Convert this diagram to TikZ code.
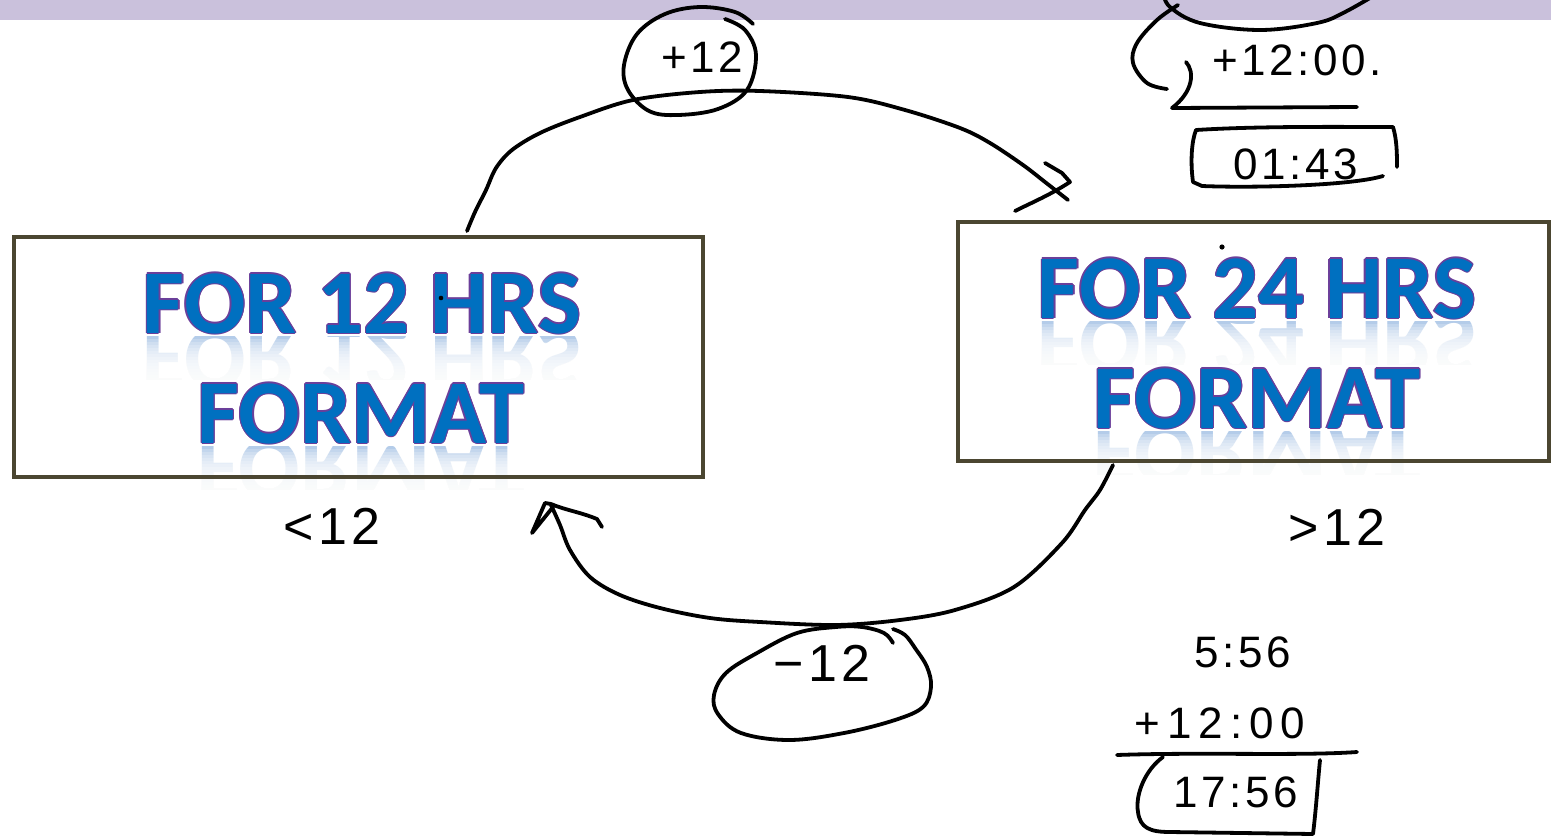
\documentclass[tikz,border=0pt]{standalone}
\usepackage{fontspec}
\newfontfamily\boxfont{Carlito}
\newfontfamily\handfont{Liberation Sans}[LetterSpace=8]
\definecolor{band}{HTML}{CAC1DC}
\definecolor{frame}{HTML}{4B4631}
\definecolor{tblue}{HTML}{0070C0}
\definecolor{outl}{HTML}{6B3F9A}
\definecolor{refl}{HTML}{B4CCE9}
\tikzset{
  hand/.style={line width=3.8pt, line cap=round, line join=round, black},
  framebox/.style={draw=frame, line width=4.5pt, inner sep=0pt},
  bigtxt/.style={font=\boxfont\bfseries\fontsize{91}{96}\selectfont, text=tblue, anchor=base, inner sep=0pt},
  htxt/.style={font=\handfont\fontsize{44}{48}\selectfont, inner sep=0pt, text=black},
  bightxt/.style={htxt, font=\handfont\fontsize{52}{56}\selectfont},
}
% main line with thin outline: name, x, baseline y, text
\newcommand\bigline[4]{%
  \foreach \dx/\dy [count=\k] in {-1.2/0,1.2/0,0/-1.2,0/1.2,-0.9/-0.9,0.9/0.9,-0.9/0.9,0.9/-0.9}{%
    \node[bigtxt, text=outl] (#1o\k) at ({#2+\dx},{#3+\dy}) {#4};}%
  \node[bigtxt] (#1) at (#2,#3) {#4};%
}
% reflection of a line: name, x, baseline y, text, x-left, x-right
\newcommand\reflline[6]{%
  \begin{scope}
    \clip (#5,{#3+3}) rectangle (#6,{#3+46});
    \node[bigtxt, text=refl, shift={(#2,#3)}, yscale=-1, transform shape] (#1) at (0,-4) {#4};%
    \foreach \i in {1,...,14}{%
      \fill[white, fill opacity=0.2] (#5,{#3+3+\i*3}) rectangle (#6,{#3+47});}%
  \end{scope}
}
\begin{document}
\begin{tikzpicture}[x=1pt,y=-1pt]
\useasboundingbox (0,0) rectangle (1551,838);
\fill[band] (0,0) rectangle (1551,20);

% reflections
\reflline{r12a}{362}{333}{FOR 12 HRS}{130}{600}
\reflline{r12b}{361}{443}{FORMAT}{180}{545}
\reflline{r24a}{1257}{318}{FOR 24 HRS}{1025}{1495}
\reflline{r24b}{1257}{428}{FORMAT}{1075}{1440}

% boxes
\node[framebox, minimum width=689pt, minimum height=240pt] (b12) at (358.5,357) {};
\node[framebox, minimum width=591pt, minimum height=239pt] (b24) at (1253.5,341.5) {};

% box texts
\bigline{t12a}{362}{333}{FOR 12 HRS}
\bigline{t12b}{361}{443}{FORMAT}
\bigline{t24a}{1257}{318}{FOR 24 HRS}
\bigline{t24b}{1257}{428}{FORMAT}

% stray pen dots
\fill (441,298) circle (2.3);
\fill (1222,247) circle (2.6);

% top connector 12 -> 24
\coordinate (tS) at (467,231);
\coordinate (tE) at (1068,200);
\draw[hand] plot[smooth, tension=0.55] coordinates {(tS) (475,212) (486,190) (496,168) (512,150) (540,133) (580,117) (633,100) (700,92) (760,91) (848,97) (905,110) (960,128) (990,143) (1023,165) (1045,182) (tE)};
\draw[hand] (1015,211) .. controls (1033,202) and (1050,195) .. (1070,182) -- (1062,173) -- (1045,163);

% bottom connector 24 -> 12
\coordinate (bS) at (1113,465);
\coordinate (bE) at (551,505);
\draw[hand] plot[smooth, tension=0.55] coordinates {(bS) (1100,490) (1085,510) (1062,543) (1014,587) (955,610) (900,620) (836,625) (760,622) (710,618) (660,608) (620,595) (590,577) (570,550) (560,525) (bE)};
\draw[hand] (602,527) -- (597,519) .. controls (580,512) and (565,510) .. (551,504) -- (545,503) -- (532,533) -- (553,507);

% +12 label with loop
\node[htxt] (plus) at (702,57) {+12};
\draw[hand] plot[smooth, tension=0.6] coordinates {(725,19) (745,30) (756,55) (747,90) (718,109) (678,115) (649,111) (628,90) (624,65) (637,34) (665,14) (700,7) (735,12) (753,24)};

% -12 label with loop
\node[bightxt] (minus) at (822,663) {−12};
\draw[hand] plot[smooth, tension=0.6] coordinates {(893,643) (884,633) (862,627) (836,627) (797,633) (757,653) (726,673) (714,695) (718,714) (741,733) (789,740) (844,733) (895,720) (923,707) (931,687) (927,667) (915,648) (905,635) (893,629)};

% conditions
\node[bightxt] (lt) at (332,526) {<12};
\node[bightxt] (gt) at (1337,527) {>12};

% top right working
\draw[hand] plot[smooth, tension=0.6] coordinates {(1163,-8) (1170,7) (1200,23) (1260,30) (1317,23) (1345,12) (1380,-8)};
\draw[hand] plot[smooth, tension=0.6] coordinates {(1178,5) (1157,20) (1137,43) (1133,63) (1147,83) (1167,89)};
\draw[hand] (1186,62) .. controls (1195,72) and (1193,92) .. (1172,108) -- (1357,107);
\node[htxt] (sum1) at (1297,60) {+12:00.};
\node[htxt] (res1) at (1296,164) {01:43};
\draw[hand] (1383,176) .. controls (1350,186) and (1250,188) .. (1202,186) -- (1193,182) .. controls (1190,160) and (1192,140) .. (1196,130) .. controls (1260,126) and (1340,127) .. (1393,127) .. controls (1397,140) and (1397,155) .. (1397,167);

% bottom right working
\node[htxt] (a2) at (1243,652) {5:56};
\node[htxt, font=\handfont\fontsize{44}{48}\selectfont\addfontfeature{LetterSpace=16}] (sum2) at (1220,723) {+12:00};
\draw[hand] (1117,755) .. controls (1200,752) and (1300,756) .. (1357,752);
\node[htxt] (res2) at (1236,792) {17:56};
\draw[hand] (1163,757) .. controls (1145,770) and (1135,795) .. (1138,812) .. controls (1140,828) and (1150,832) .. (1170,832) -- (1313,834) .. controls (1316,810) and (1318,780) .. (1320,760);
\end{tikzpicture}
\end{document}
